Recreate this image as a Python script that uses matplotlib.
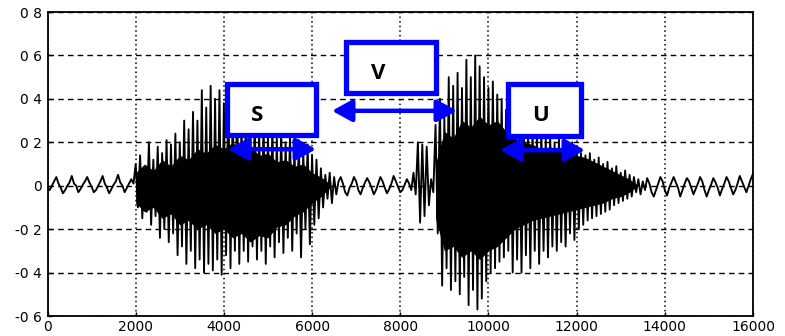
import numpy as np
import matplotlib
matplotlib.use('Agg')
import matplotlib.pyplot as plt
from matplotlib.patches import Rectangle, FancyArrowPatch

# ---------------- data (sample step = 50) ----------------
STEP = 50
# quiet part 0 .. 1950
sil_a = [-0.01, -0.02, 0.0, 0.02, 0.04, 0.01, -0.01, -0.035, -0.02, 0.0,
         0.015, 0.045, 0.01, 0.0, -0.03, -0.015, 0.005, 0.02, 0.04, 0.015,
         -0.005, -0.03, -0.02, 0.0, 0.02, 0.045, 0.01, -0.01, -0.035, -0.015,
         0.005, 0.02, 0.05, 0.015, 0.0, -0.03, -0.01, 0.01, 0.03, 0.01]
# "S" burst 2000 .. 6350 (peak pairs every 100 samples)
s_hi = [0.10, 0.14, 0.08, 0.20, 0.12, 0.18, 0.15, 0.21, 0.19, 0.24, 0.20, 0.30,
        0.26, 0.34, 0.30, 0.44, 0.36, 0.46, 0.40, 0.44, 0.38, 0.46, 0.35, 0.40,
        0.30, 0.34, 0.28, 0.32, 0.26, 0.30, 0.24, 0.28, 0.22, 0.26, 0.20, 0.24,
        0.18, 0.21, 0.16, 0.19, 0.14, 0.12, 0.08, 0.05]
s_lo = [-0.10, -0.15, -0.12, -0.18, -0.14, -0.24, -0.20, -0.26, -0.22, -0.32, -0.28, -0.36,
        -0.30, -0.38, -0.34, -0.40, -0.36, -0.39, -0.34, -0.41, -0.32, -0.38, -0.30, -0.36,
        -0.30, -0.35, -0.28, -0.34, -0.30, -0.36, -0.28, -0.33, -0.26, -0.31, -0.24, -0.30,
        -0.22, -0.33, -0.20, -0.27, -0.18, -0.15, -0.10, -0.06]
# quiet part 6400 .. 8250
sil_b = [0.06, -0.08, 0.04, -0.04, 0.02, 0.04, 0.01, -0.03, -0.045, -0.01,
         0.01, 0.04, 0.02, -0.02, -0.04, -0.01, 0.015, 0.035, 0.015, -0.01,
         -0.04, -0.02, 0.01, 0.04, 0.02, -0.01, -0.035, -0.015, 0.01, 0.045,
         0.02, -0.005, -0.03, -0.02, 0.005, 0.03, 0.01, -0.02]
# "V" / "U" part 8300 .. 13350 (peak pairs every 100 samples)
v_hi = [0.06, 0.20, 0.19, 0.18, 0.03, 0.28, 0.40, 0.32, 0.50, 0.46,
        0.52, 0.45, 0.58, 0.50, 0.60, 0.55, 0.50, 0.45, 0.48, 0.42,
        0.40, 0.35, 0.33, 0.30, 0.28, 0.30, 0.25, 0.28, 0.24, 0.26,
        0.22, 0.24, 0.20, 0.22, 0.20, 0.18, 0.20, 0.16, 0.15, 0.14,
        0.15, 0.12, 0.13, 0.10, 0.11, 0.08, 0.09, 0.06, 0.07, 0.05, 0.04]
v_lo = [-0.04, -0.17, -0.14, -0.09, -0.03, -0.22, -0.46, -0.38, -0.48, -0.44,
        -0.50, -0.42, -0.55, -0.48, -0.57, -0.52, -0.44, -0.40, -0.38, -0.35,
        -0.33, -0.30, -0.40, -0.34, -0.40, -0.32, -0.38, -0.30, -0.36, -0.30,
        -0.33, -0.28, -0.30, -0.26, -0.28, -0.22, -0.25, -0.20, -0.18, -0.16,
        -0.15, -0.14, -0.13, -0.12, -0.11, -0.09, -0.08, -0.07, -0.06, -0.05, -0.03]
# quiet part 13400 .. 16000
sil_c = [0.03, -0.04, 0.02, -0.02, 0.035, 0.01, -0.03, -0.05, -0.02, 0.01,
         0.04, 0.02, -0.02, -0.045, -0.01, 0.015, 0.04, 0.015, -0.01, -0.05,
         -0.02, 0.01, 0.035, 0.02, -0.01, -0.04, -0.015, 0.01, 0.04, 0.02,
         -0.02, -0.05, -0.02, 0.005, 0.035, 0.015, -0.01, -0.045, -0.015, 0.01,
         0.04, 0.02, -0.01, -0.04, -0.02, 0.01, 0.045, 0.02, -0.005, -0.03,
         0.0, 0.03, 0.055]

# dense core (envelope) of the voiced parts, every 200 samples
core_s_x = list(range(2000, 6401, 200))
core_s_hi = [0.06, 0.10, 0.07, 0.12, 0.09, 0.14, 0.12, 0.17, 0.15, 0.19, 0.17, 0.20,
             0.16, 0.18, 0.14, 0.15, 0.11, 0.12, 0.09, 0.10, 0.06, 0.04, 0.01]
core_s_lo = [-0.08, -0.12, -0.10, -0.15, -0.13, -0.18, -0.16, -0.20, -0.18, -0.22, -0.20, -0.24,
             -0.22, -0.26, -0.23, -0.24, -0.19, -0.18, -0.14, -0.12, -0.08, -0.05, -0.01]
core_v_x = list(range(8800, 13401, 200))
core_v_hi = [0.10, 0.25, 0.22, 0.30, 0.27, 0.32, 0.28, 0.30, 0.25, 0.22, 0.20, 0.19,
             0.17, 0.18, 0.16, 0.15, 0.14, 0.13, 0.11, 0.09, 0.07, 0.05, 0.03, 0.0]
core_v_lo = [-0.15, -0.30, -0.28, -0.33, -0.30, -0.34, -0.30, -0.28, -0.24, -0.20, -0.18, -0.16,
             -0.15, -0.14, -0.13, -0.12, -0.11, -0.10, -0.09, -0.08, -0.06, -0.05, -0.03, 0.0]

x_ticks = [0, 2000, 4000, 6000, 8000, 10000, 12000, 14000, 16000]
x_labels = ['0', '2000', '4000', '6000', '8000', '10000', '12000', '14000', '16000']
y_ticks = [-0.6, -0.4, -0.2, 0.0, 0.2, 0.4, 0.6, 0.8]
y_labels = ['-0 6', '-0 4', '-0 2', '0', '0 2', '0 4', '0 6', '0 8']

# ---------------- build waveform ----------------
s_seg = np.column_stack([s_hi, s_lo]).ravel()
v_seg = np.column_stack([v_hi, v_lo]).ravel()
wave = np.concatenate([sil_a, s_seg, sil_b, v_seg, sil_c])
t = np.arange(len(wave)) * STEP

fig = plt.figure(figsize=(7.85, 3.36), dpi=100)
ax = fig.add_axes([47.5 / 785, 20 / 336, 705.5 / 785, 304 / 336])

ax.fill_between(core_s_x, core_s_lo, core_s_hi, color='black', lw=0, zorder=2)
ax.fill_between(core_v_x, core_v_lo, core_v_hi, color='black', lw=0, zorder=2)
ax.plot(t, wave, color='black', lw=1.35, zorder=3)

ax.set_xlim(0, 16000)
ax.set_ylim(-0.6, 0.8)
ax.set_xticks(x_ticks)
ax.set_xticklabels(x_labels)
ax.set_yticks(y_ticks)
ax.set_yticklabels(y_labels)
ax.tick_params(direction='in', length=3, width=1, labelsize=10, pad=4)
ax.tick_params(axis='x', pad=3)
for sp in ax.spines.values():
    sp.set_linewidth(1.3)
ax.xaxis.grid(True, ls=(0, (1, 2)), color='black', lw=1.1)
ax.yaxis.grid(True, ls=(0, (4, 3)), color='black', lw=1.0)
ax.set_axisbelow(True)

BLUE = '#0000ff'
boxes = [(4082, 0.234, 1996, 0.236), (6770, 0.425, 2030, 0.236), (10433, 0.230, 1655, 0.240)]
for (bx, by, bw, bh) in boxes:
    ax.add_patch(Rectangle((bx, by), bw, bh, facecolor='white', edgecolor=BLUE,
                           lw=3.8, zorder=5))
for (lab, lx, ly) in [('S', 4750, 0.323), ('V', 7496, 0.518), ('U', 11170, 0.323)]:
    ax.text(lx, ly, lab, ha='center', va='center', fontsize=16, fontweight='bold',
            family='Open Sans', color='black', zorder=6)
for (x0, x1, y) in [(4094, 6090, 0.168), (6452, 9287, 0.345), (10262, 12190, 0.164)]:
    ax.add_patch(FancyArrowPatch((x0, y), (x1, y),
                                 arrowstyle='<|-|>,head_length=0.6,head_width=0.33',
                                 mutation_scale=20, color=BLUE, lw=3.2,
                                 shrinkA=0, shrinkB=0, zorder=6))

fig.savefig('out.png', dpi=100)
